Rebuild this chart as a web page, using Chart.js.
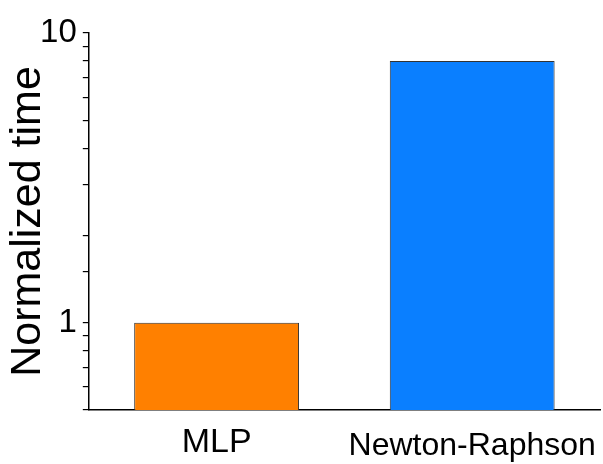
<!DOCTYPE html>
<html>
<head>
<meta charset="utf-8">
<script src="https://cdn.jsdelivr.net/npm/chart.js@4.4.1/dist/chart.umd.min.js"></script>
<style>
  html, body { margin: 0; padding: 0; background: #fff; }
  #wrap { width: 603px; height: 464px; }
</style>
</head>
<body>
<div id="wrap"><canvas id="chart"></canvas></div>
<script>
// data
const methods = ["MLP", "Newton-Raphson"];
const normalizedTime = [1, 8.0];
const barColors = ["#ff8000", "#0a7fff"];
const labelledTicks = [1, 10];

const ctx = document.getElementById("chart").getContext("2d");

new Chart(ctx, {
  type: "bar",
  data: {
    labels: methods,
    datasets: [
      {
        data: normalizedTime,
        backgroundColor: barColors,
        borderColor: "#333",
        borderWidth: 1,
        borderSkipped: "bottom",
        categoryPercentage: 1,
        barPercentage: 0.645,
      },
    ],
  },
  options: {
    responsive: true,
    maintainAspectRatio: false,
    animation: false,
    layout: { padding: { top: 33, right: 3, left: 2.5, bottom: -18 } },
    plugins: {
      legend: { display: false },
      tooltip: { enabled: false },
    },
    scales: {
      x: {
        grid: { display: false, drawTicks: false },
        border: { color: "#000", width: 1.5 },
        ticks: {
          color: "#000",
          padding: 0,
          // taller line box pushes the label down without widening the side padding
          font: (c) =>
            c.index === 0
              ? { family: "Liberation Sans, Arial, sans-serif", size: 34, lineHeight: "65px" }
              : { family: "Liberation Sans, Arial, sans-serif", size: 32, lineHeight: "72px" },
        },
      },
      y: {
        type: "logarithmic",
        min: 0.5,
        max: 10,
        border: { color: "#000", width: 1.5 },
        grid: {
          drawOnChartArea: false,
          drawTicks: true,
          tickLength: 6,
          tickColor: "#000",
          lineWidth: 1.2,
        },
        ticks: {
          color: "#000",
          padding: 6,
          autoSkip: false,
          font: { family: "Liberation Sans, Arial, sans-serif", size: 33 },
          callback: (v) => (labelledTicks.includes(v) ? String(v) : ""),
        },
        title: {
          display: true,
          text: "Normalized time",
          color: "#000",
          font: { family: "Liberation Sans, Arial, sans-serif", size: 43 },
          padding: { top: 0, bottom: -20 },
        },
      },
    },
  },
});
</script>
</body>
</html>
